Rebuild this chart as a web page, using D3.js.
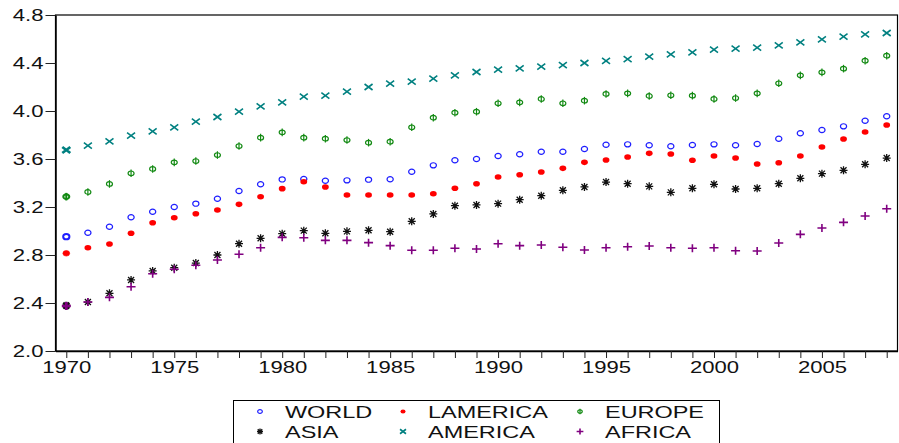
<!DOCTYPE html>
<html>
<head>
<meta charset="utf-8">
<script src="https://cdn.jsdelivr.net/npm/d3@7"></script>
<style>
  body { margin: 0; background: #fff; }
  svg { display: block; font-family: "Liberation Sans", Arial, sans-serif; }
</style>
</head>
<body>
<svg id="chart" width="899" height="443"></svg>
<script>
const years = d3.range(1970, 2009);

const world = [2.953, 2.986, 3.036, 3.114, 3.161, 3.200, 3.228, 3.269, 3.333, 3.389,
  3.430, 3.433, 3.419, 3.422, 3.428, 3.431, 3.494, 3.547, 3.589, 3.600,
  3.625, 3.639, 3.661, 3.661, 3.683, 3.719, 3.722, 3.714, 3.706, 3.717,
  3.722, 3.714, 3.725, 3.769, 3.814, 3.842, 3.872, 3.919, 3.956];
const lamerica = [2.814, 2.861, 2.892, 2.981, 3.069, 3.111, 3.144, 3.175, 3.222, 3.286,
  3.353, 3.411, 3.367, 3.300, 3.300, 3.300, 3.300, 3.311, 3.356, 3.394,
  3.450, 3.469, 3.492, 3.522, 3.572, 3.592, 3.617, 3.647, 3.642, 3.589,
  3.625, 3.608, 3.558, 3.569, 3.625, 3.700, 3.767, 3.825, 3.883];
const europe = [3.286, 3.325, 3.392, 3.481, 3.517, 3.572, 3.583, 3.633, 3.708, 3.778,
  3.822, 3.778, 3.769, 3.758, 3.736, 3.744, 3.864, 3.944, 3.986, 3.994,
  4.064, 4.072, 4.100, 4.064, 4.086, 4.142, 4.147, 4.125, 4.131, 4.128,
  4.100, 4.108, 4.147, 4.231, 4.297, 4.322, 4.353, 4.419, 4.461];
const asia = [2.378, 2.408, 2.481, 2.592, 2.667, 2.694, 2.733, 2.800, 2.894, 2.939,
  2.978, 3.003, 2.981, 2.997, 3.006, 2.994, 3.081, 3.142, 3.211, 3.217,
  3.228, 3.261, 3.294, 3.339, 3.367, 3.408, 3.394, 3.372, 3.322, 3.356,
  3.389, 3.350, 3.356, 3.394, 3.439, 3.478, 3.506, 3.556, 3.608];
const america = [3.675, 3.711, 3.747, 3.794, 3.830, 3.864, 3.911, 3.950, 3.994, 4.039,
  4.072, 4.120, 4.128, 4.161, 4.200, 4.228, 4.244, 4.269, 4.297, 4.325,
  4.344, 4.355, 4.369, 4.383, 4.400, 4.417, 4.433, 4.453, 4.472, 4.489,
  4.511, 4.519, 4.528, 4.547, 4.572, 4.597, 4.619, 4.639, 4.650];
const africa = [2.375, 2.408, 2.447, 2.536, 2.644, 2.681, 2.714, 2.758, 2.806, 2.861,
  2.947, 2.944, 2.922, 2.922, 2.903, 2.878, 2.839, 2.839, 2.856, 2.850,
  2.894, 2.878, 2.883, 2.864, 2.842, 2.861, 2.869, 2.875, 2.861, 2.856,
  2.861, 2.836, 2.833, 2.900, 2.972, 3.025, 3.072, 3.125, 3.186];

const yTicks = [2.0, 2.4, 2.8, 3.2, 3.6, 4.0, 4.4, 4.8];
const xLabelYears = [1970, 1975, 1980, 1985, 1990, 1995, 2000, 2005];

const seriesNames = ["WORLD", "LAMERICA", "EUROPE", "ASIA", "AMERICA", "AFRICA"];
const seriesValues = [world, lamerica, europe, asia, america, africa];
const seriesColors = ["#1f1fff", "#ff0000", "#138a13", "#111111", "#008080", "#800080"];
const seriesShapes = ["circle", "dot", "phi", "star", "cross", "plus"];

const svg = d3.select("#chart");
const mLeft = 55.5, mRight = 897.5, mTop = 15, mBottom = 351;
const stretch = 1.38;

const x = d3.scaleLinear().domain([1969.5, 2008.5]).range([mLeft, mRight]);
const y = d3.scaleLinear().domain([2.0, 4.8]).range([mBottom, mTop]);

// frame
svg.append("rect")
  .attr("x", mLeft).attr("y", mTop)
  .attr("width", mRight - mLeft).attr("height", mBottom - mTop)
  .attr("fill", "none").attr("stroke", "#000").attr("stroke-width", 1.2);

const yAxis = svg.append("g")
  .attr("transform", `translate(${mLeft},0)`)
  .call(d3.axisLeft(y).tickValues(yTicks).tickFormat(d3.format(".1f"))
    .tickSize(10).tickPadding(2).tickSizeOuter(0));
yAxis.selectAll("text")
  .attr("x", -12 / stretch)
  .attr("transform", `scale(${stretch},1)`);

const xAxis = svg.append("g")
  .attr("transform", `translate(0,${mBottom})`)
  .call(d3.axisBottom(x).tickValues(years)
    .tickFormat(d => xLabelYears.includes(d) ? d : "")
    .tickSize(7).tickPadding(4).tickSizeOuter(0));
xAxis.selectAll("text").attr("transform", `scale(${stretch},1)`);

[yAxis, xAxis].forEach(a => {
  a.selectAll("text").attr("font-size", 16).attr("fill", "#111")
    .attr("font-family", "'Liberation Sans', Arial, sans-serif");
  a.select(".domain").attr("stroke", "#000").attr("stroke-width", 1.5);
  a.selectAll(".tick line").attr("stroke", "#222");
});

// sw: stroke width multiplier (first-year points look heavier in the original)
function drawMarker(g, shape, color, k, sw = 1) {
  if (shape === "circle") {
    g.append("ellipse").attr("rx", 3.1 * k).attr("ry", 2.6 * k)
      .attr("fill", "#fff").attr("stroke", color).attr("stroke-width", 1.2 * sw);
  } else if (shape === "dot") {
    g.append("ellipse").attr("rx", 3.4 * k).attr("ry", 2.8 * k).attr("fill", color)
      .attr("stroke", sw > 1 ? color : "none").attr("stroke-width", 0.6);
  } else if (shape === "phi") {
    g.append("ellipse").attr("rx", 3 * k).attr("ry", 2.3 * k)
      .attr("fill", "none").attr("stroke", color).attr("stroke-width", 1.2 * sw);
    g.append("path").attr("d", `M0,${-3.8 * k}V${3.8 * k}`)
      .attr("stroke", color).attr("stroke-width", 1.2 * sw);
  } else if (shape === "cross") {
    g.append("path")
      .attr("d", `M${-4 * k},${-3 * k}L${4 * k},${3 * k}M${-4 * k},${3 * k}L${4 * k},${-3 * k}`)
      .attr("stroke", color).attr("stroke-width", 1.6 * sw);
  } else if (shape === "star") {
    g.append("path")
      .attr("d", `M0,${-4 * k}V${4 * k}M${-4 * k},0H${4 * k}M${-3 * k},${-3 * k}L${3 * k},${3 * k}M${-3 * k},${3 * k}L${3 * k},${-3 * k}`)
      .attr("stroke", color).attr("stroke-width", 1.3 * sw);
  } else if (shape === "plus") {
    g.append("path")
      .attr("d", `M${-4.5 * k},0H${4.5 * k}M0,${-4 * k}V${4 * k}`)
      .attr("stroke", color).attr("stroke-width", 1.6 * sw);
  }
}

const plot = svg.append("g");
seriesValues.forEach((vals, i) => {
  const grp = plot.append("g");
  vals.forEach((v, j) => {
    const m = grp.append("g")
      .attr("transform", `translate(${x(years[j])},${y(v)})`);
    drawMarker(m, seriesShapes[i], seriesColors[i], 1, j === 0 ? 1.7 : 1);
  });
});

// legend
const legend = svg.append("g");
legend.append("rect")
  .attr("x", 233.5).attr("y", 400.5)
  .attr("width", 486).attr("height", 60)
  .attr("fill", "#fff").attr("stroke", "#000").attr("stroke-width", 1);

const colSym = [260, 403, 580];
const colText = [285, 428, 605];
const rowY = [411.5, 431.5];
seriesNames.forEach((name, i) => {
  const c = i % 3, r = Math.floor(i / 3);
  const m = legend.append("g").attr("transform", `translate(${colSym[c]},${rowY[r]})`);
  drawMarker(m, seriesShapes[i], seriesColors[i], 0.75);
  legend.append("text")
    .attr("transform", `translate(${colText[c]},${rowY[r] + 6}) scale(${stretch},1)`)
    .attr("font-size", 17).attr("fill", "#111")
    .text(name);
});
</script>
</body>
</html>
